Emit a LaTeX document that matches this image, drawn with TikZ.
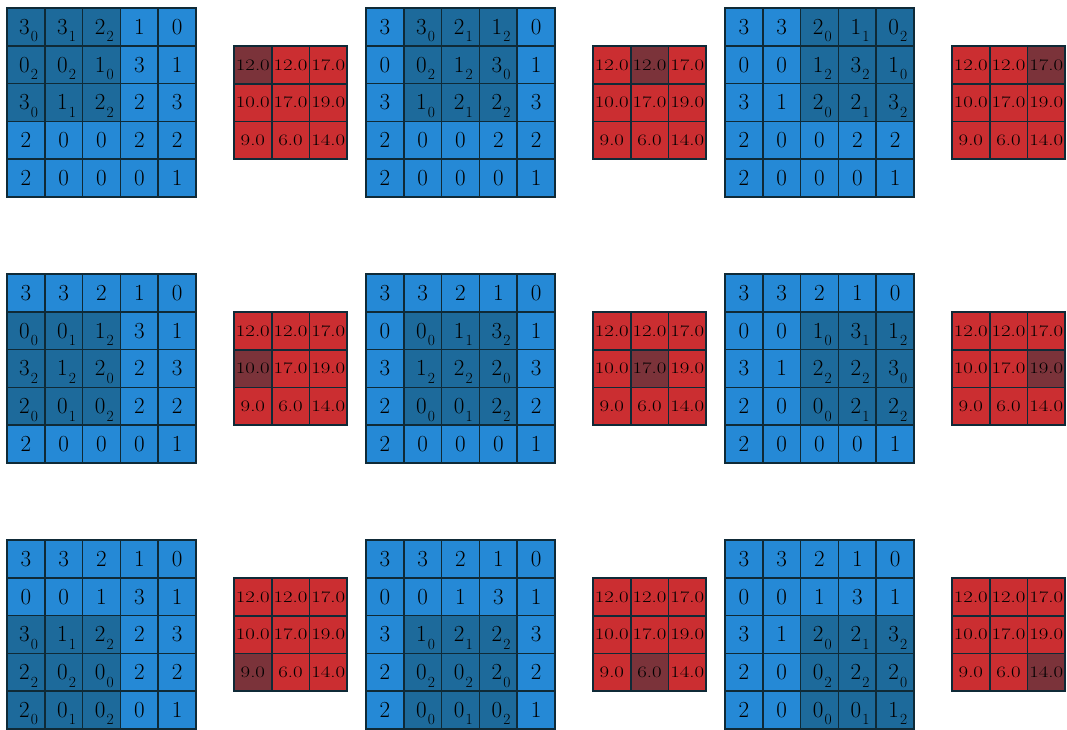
\documentclass[tikz,border=0pt]{standalone}
\usepackage{graphicx}
\definecolor{lblue}{HTML}{2589D6}
\definecolor{dblue}{HTML}{1D6A9B}
\definecolor{lred}{HTML}{CB2E31}
\definecolor{dred}{HTML}{7B333A}
\definecolor{gridline}{HTML}{0F2A37}
\newcommand\withsub[2]{#1\rlap{\kern1.2pt\raisebox{-7.4pt}{\fontsize{15.5}{15.5}\selectfont #2}}}
\newcommand\redtxt[1]{\scalebox{1.3}[1]{#1}}
\tikzset{
  incell/.style={draw=gridline, line width=1.6pt, fill=lblue, minimum size=37.8pt,
    inner sep=0pt, text height=14.8pt, text depth=0pt, anchor=center,
    font=\fontsize{23}{23}\selectfont},
  outcell/.style={draw=gridline, line width=1.6pt, fill=lred, minimum size=37.7pt,
    inner sep=0pt, text height=10.3pt, text depth=0pt, anchor=center,
    font=\fontsize{16}{16}\selectfont}
}
\begin{document}
\begin{tikzpicture}[x=1pt,y=-1pt]
\useasboundingbox (0,0) rectangle (1067,729);
\foreach \pr in {0,1,2}{
  \foreach \pc in {0,1,2}{
    \pgfmathsetmacro\ox{7+359*\pc}
    \pgfmathsetmacro\oy{8+266*\pr}
    \foreach \row [count=\i from 0] in {{3,3,2,1,0},{0,0,1,3,1},{3,1,2,2,3},{2,0,0,2,2},{2,0,0,0,1}}{
      \foreach \v [count=\j from 0] in \row {
        \pgfmathtruncatemacro\inwin{(\i>=\pr)&&(\i<=\pr+2)&&(\j>=\pc)&&(\j<=\pc+2)}
        \ifnum\inwin=1
          \pgfmathtruncatemacro\k{3*(\i-\pr)+(\j-\pc)}
          \pgfmathtruncatemacro\w{{0,1,2,2,2,0,0,1,2}[\k]}
          \node[incell, fill=dblue] (in-\pr-\pc-\i-\j) at (\ox+\j*37.8+18.9, \oy+\i*37.8+18.9) {\hspace*{-2.8pt}\withsub{\v}{\w}};
        \else
          \node[incell] (in-\pr-\pc-\i-\j) at (\ox+\j*37.8+18.9, \oy+\i*37.8+18.9) {\v};
        \fi
      }
    }
    \foreach \row [count=\i from 0] in {{12.0,12.0,17.0},{10.0,17.0,19.0},{9.0,6.0,14.0}}{
      \foreach \v [count=\j from 0] in \row {
        \pgfmathtruncatemacro\hit{(\i==\pr)&&(\j==\pc)}
        \ifnum\hit=1
          \node[outcell, fill=dred] (out-\pr-\pc-\i-\j) at (\ox+227+\j*37.7+18.85, \oy+38+\i*37.7+18.85) {\redtxt{\v}};
        \else
          \node[outcell] (out-\pr-\pc-\i-\j) at (\ox+227+\j*37.7+18.85, \oy+38+\i*37.7+18.85) {\redtxt{\v}};
        \fi
      }
    }
  }
}
\end{tikzpicture}
\end{document}
